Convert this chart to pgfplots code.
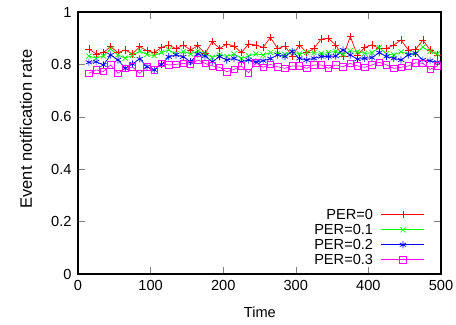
\documentclass[border=0pt]{standalone}
\usepackage{pgfplots}
\pgfplotsset{compat=1.18}
\usepackage{pgfplotstable}
\usepackage{fontspec}
\setmainfont{Liberation Sans}
\definecolor{gred}{RGB}{255,0,0}
\definecolor{ggreen}{RGB}{0,255,0}
\definecolor{gblue}{RGB}{0,0,255}
\definecolor{gmag}{RGB}{255,0,255}

\pgfplotstableread{
x p0 p1 p2 p3
15 0.859 0.832 0.808 0.766
25 0.840 0.824 0.810 0.779
35 0.845 0.832 0.798 0.773
45 0.868 0.859 0.836 0.798
55 0.845 0.836 0.817 0.766
65 0.855 0.824 0.785 0.785
75 0.840 0.834 0.802 0.790
85 0.868 0.851 0.821 0.766
95 0.852 0.838 0.791 0.791
105 0.845 0.834 0.779 0.779
115 0.865 0.845 0.800 0.804
125 0.874 0.855 0.829 0.798
135 0.860 0.840 0.836 0.800
145 0.874 0.849 0.829 0.804
155 0.855 0.840 0.810 0.800
165 0.871 0.851 0.840 0.817
175 0.842 0.840 0.832 0.804
185 0.887 0.827 0.810 0.794
195 0.861 0.836 0.830 0.789
205 0.877 0.830 0.817 0.772
215 0.870 0.840 0.823 0.781
225 0.845 0.823 0.810 0.794
235 0.878 0.832 0.817 0.768
245 0.874 0.840 0.810 0.806
255 0.865 0.836 0.814 0.789
265 0.903 0.845 0.822 0.800
275 0.860 0.842 0.836 0.791
285 0.870 0.838 0.830 0.785
295 0.832 0.849 0.849 0.794
305 0.874 0.840 0.823 0.794
315 0.845 0.845 0.817 0.785
325 0.861 0.845 0.823 0.798
335 0.897 0.842 0.830 0.798
345 0.899 0.845 0.830 0.785
355 0.874 0.850 0.832 0.798
365 0.829 0.838 0.855 0.791
375 0.906 0.852 0.836 0.804
385 0.836 0.848 0.820 0.794
395 0.865 0.842 0.823 0.789
405 0.874 0.845 0.826 0.798
415 0.861 0.865 0.845 0.808
425 0.860 0.840 0.830 0.798
435 0.874 0.836 0.823 0.785
445 0.893 0.848 0.817 0.789
455 0.855 0.840 0.836 0.794
465 0.857 0.842 0.842 0.806
475 0.893 0.866 0.817 0.804
485 0.855 0.850 0.814 0.781
495 0.836 0.840 0.808 0.794
}\data

\begin{document}
\begin{tikzpicture}
\path[use as bounding box] (-78bp,-51bp) rectangle (378bp,274bp);
\begin{axis}[
  at={(0,0)}, anchor=south west,
  scale only axis, width=363bp, height=262bp,
  xmin=0, xmax=500, ymin=0, ymax=1,
  xtick={0,100,...,500},
  ytick={0,0.2,0.4,0.6,0.8,1},
  tick align=inside,
  major tick length=7bp,
  axis line style={line width=1.1pt},
  /pgf/number format/assume math mode=true,
  tick label style={font=\fontsize{14.6bp}{17bp}\selectfont},
  xticklabel style={yshift=-3bp},
  yticklabel style={xshift=-3bp},
  xlabel={Time},
  ylabel={Event notification rate},
  xlabel style={font=\fontsize{14.6bp}{17bp}\selectfont, at={(axis description cs:0.501,-0.145)}, anchor=center},
  ylabel style={font=\fontsize{16.5bp}{19bp}\selectfont, at={(axis description cs:-0.143,0.553)}, anchor=center},
  legend plot pos=right,
  legend cell align=right,
  legend style={font=\fontsize{14.6bp}{17bp}\selectfont, draw=none, fill=none, at={(1,0)}, anchor=south east,
    xshift=-16bp, yshift=7.25bp, inner sep=0pt, row sep=1.5bp, column sep=6bp,
    nodes={inner sep=2bp, text height=9.5bp, text depth=0bp}},
  legend image code/.code={%
    \draw[mark repeat=2,mark phase=2] plot coordinates {(0bp,0bp) (21.5bp,0bp) (43bp,0bp)};},
  every axis plot/.append style={line width=0.7pt, mark size=3.6bp},
]
\addplot[color=gred, mark=+] table[x=x,y=p0] {\data};
\addlegendentry{PER=0}
\addplot[color=ggreen, mark=x] table[x=x,y=p1] {\data};
\addlegendentry{PER=0.1}
\addplot[color=gblue, mark=asterisk] table[x=x,y=p2] {\data};
\addlegendentry{PER=0.2}
\addplot[color=gmag, mark=square, mark size=3.2bp] table[x=x,y=p3] {\data};
\addlegendentry{PER=0.3}
\end{axis}
\end{tikzpicture}
\end{document}
